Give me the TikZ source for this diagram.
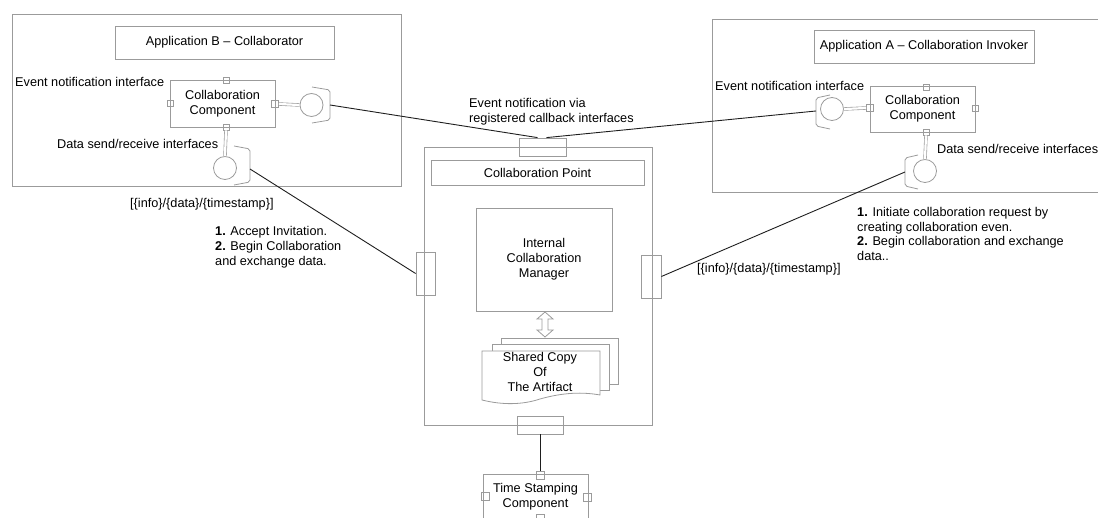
\documentclass[tikz,border=0pt]{standalone}
\usepackage{fontspec}
\setmainfont{Liberation Sans}
\definecolor{linegray}{HTML}{9B9B9B}
\definecolor{wirecol}{HTML}{1E1E1E}
\begin{document}
\begin{tikzpicture}[x=1pt,y=-1pt,
  font=\fontsize{12.7}{14.8}\selectfont,
  frame/.style={draw=linegray, line width=0.8pt, inner sep=0pt, text=black},
  outline/.style={draw=linegray, line width=0.8pt},
  port/.style={draw=linegray, line width=0.7pt, minimum size=6pt, inner sep=0pt},
  bigport/.style={draw=linegray, line width=0.8pt, inner sep=0pt},
  plug/.style={draw=linegray, circle, line width=0.8pt, minimum size=23pt, inner sep=0pt},
  stem/.style={draw=linegray, double=white, double distance=2.2pt, line width=0.6pt},
  socket/.style={draw=linegray, line width=0.8pt, rounded corners=2pt},
  wire/.style={draw=wirecol, line width=0.9pt},
  lbl/.style={inner sep=0pt, anchor=west, align=left},
]
\useasboundingbox (0,0) rectangle (1098,518);

% ---------- Application B ----------
\node[frame, minimum width=389pt, minimum height=172pt] (appB) at (206.5,100) {};
\node[frame, minimum width=219pt, minimum height=33pt] (titleB) at (224.5,42.5) {Application B – Collaborator};
\node[frame, minimum width=105pt, minimum height=47pt, align=center] (compB) at (222.5,103.5) {Collaboration\\Component};
\node[port] (compBn) at (226,80) {};
\node[port] (compBw) at (170,103) {};
\node[port, minimum size=7pt] (compBe) at (275,104) {};
\node[port] (compBs) at (226,127) {};

\node[plug] (plugB) at (311.5,105) {};
\draw[stem] (compBe.east) -- (plugB.west);
\draw[socket] (312,87) -- (330,90) -- (330,120) -- (312,123);
\coordinate (sockB) at (330,105);

\node[plug] (plugB2) at (225,168) {};
\draw[stem] (compBs.south) -- (plugB2.north);
\draw[socket] (234,146) -- (250,149) -- (250,182) -- (234,185);
\coordinate (sockB2) at (250,169);

\node[lbl] (evtB) at (15,82) {Event notification interface};
\node[lbl] (dataB) at (57,144) {Data send/receive interfaces};

% ---------- Application A ----------
\node[frame, minimum width=398pt, minimum height=173pt] (appA) at (911,105.5) {};
\node[frame, minimum width=220pt, minimum height=33pt] (titleA) at (924,46.5) {Application A – Collaboration Invoker};
\node[frame, minimum width=105pt, minimum height=46pt, align=center] (compA) at (922.5,109) {Collaboration\\Component};
\node[port] (compAn) at (926,87) {};
\node[port, minimum size=7pt] (compAw) at (870,108) {};
\node[port] (compAe) at (975,108) {};
\node[port] (compAs) at (926,132) {};

\node[plug] (plugA) at (832,109) {};
\draw[stem] (plugA.east) -- (compAw.west);
\draw[socket] (830,95) -- (816,98) -- (816,126) -- (830,129);
\coordinate (sockA) at (816,111);

\node[plug] (plugA2) at (925,171) {};
\draw[stem] (compAs.south) -- (plugA2.north);
\draw[socket] (918,155) -- (905,158) -- (905,186) -- (918,189);
\coordinate (sockA2) at (905,172);

\node[lbl] (evtA) at (715,86) {Event notification interface};
\node[lbl] (dataA) at (937,149) {Data send/receive interfaces};

% ---------- Collaboration Point ----------
\node[frame, minimum width=228pt, minimum height=278pt] (cp) at (538,286) {};
\node[frame, minimum width=213pt, minimum height=25pt] (cpTitle) at (537.5,172.5) {Collaboration Point};
\node[frame, minimum width=136pt, minimum height=103pt, align=center] (icm) at (544,259.5) {Internal\\Collaboration\\Manager};
\node[bigport, minimum width=47pt, minimum height=18pt] (cpTop) at (542.5,147) {};
\node[bigport, minimum width=19pt, minimum height=43pt] (cpLeft) at (425.5,273.5) {};
\node[bigport, minimum width=20pt, minimum height=43pt] (cpRight) at (651,276.5) {};
\node[bigport, minimum width=46pt, minimum height=18pt] (cpBottom) at (540,425) {};

% two-way exchange between manager and artifact
\draw[outline] (545,312) -- (553,319) -- (548,319) -- (548,330) -- (553,330) -- (545,337)
  -- (537,330) -- (542,330) -- (542,319) -- (537,319) -- cycle;

% stacked artifact copies
\draw[outline, fill=white] (501,338) rectangle (618,384);
\draw[outline, fill=white] (492,344) rectangle (609,390);
\draw[outline, fill=white] (482,351) -- (600,351) -- (600,395)
  .. controls (578,391) and (558,394) .. (540,399)
  .. controls (522,405) and (502,405) .. (482,400) -- cycle;
\node[align=center, inner sep=0pt] (artifact) at (540,372) {Shared Copy\\Of\\The Artifact};

% ---------- Time Stamping ----------
\node[frame, minimum width=105pt, minimum height=45pt, align=center] (tsc) at (535.5,496.5) {Time Stamping\\Component};
\node[port, minimum size=8pt] (tsN) at (540,475) {};
\node[port, minimum size=8pt] (tsW) at (485,496) {};
\node[port, minimum size=8pt] (tsE) at (587.5,497) {};
\node[port, minimum size=8pt] (tsS) at (540,518) {};

% ---------- connectors ----------
\draw[wire] (sockB) -- ([xshift=-5pt]cpTop.north);
\draw[wire] ([xshift=4pt]cpTop.north) -- (sockA);
\draw[wire] (sockB2) -- (cpLeft.west);
\draw[wire] (cpRight.east) -- (sockA2);
\draw[wire] (cpBottom.south) -- (tsN.north);

% ---------- labels ----------
\node[lbl] (evtVia) at (469,112) {Event notification via\\registered callback interfaces};
\node[lbl] (msgB) at (130,204) {[\{info\}/\{data\}/\{timestamp\}]};
\node[lbl] (stepsB) at (215,247) {\textbf{1.} Accept Invitation.\\\textbf{2.} Begin Collaboration\\and exchange data.};
\node[lbl] (stepsA) at (857,234) {\textbf{1.} Initiate collaboration request by\\creating collaboration even.\\\textbf{2.} Begin collaboration and exchange\\data..};
\node[lbl] (msgA) at (697,269) {[\{info\}/\{data\}/\{timestamp\}]};
\end{tikzpicture}
\end{document}
